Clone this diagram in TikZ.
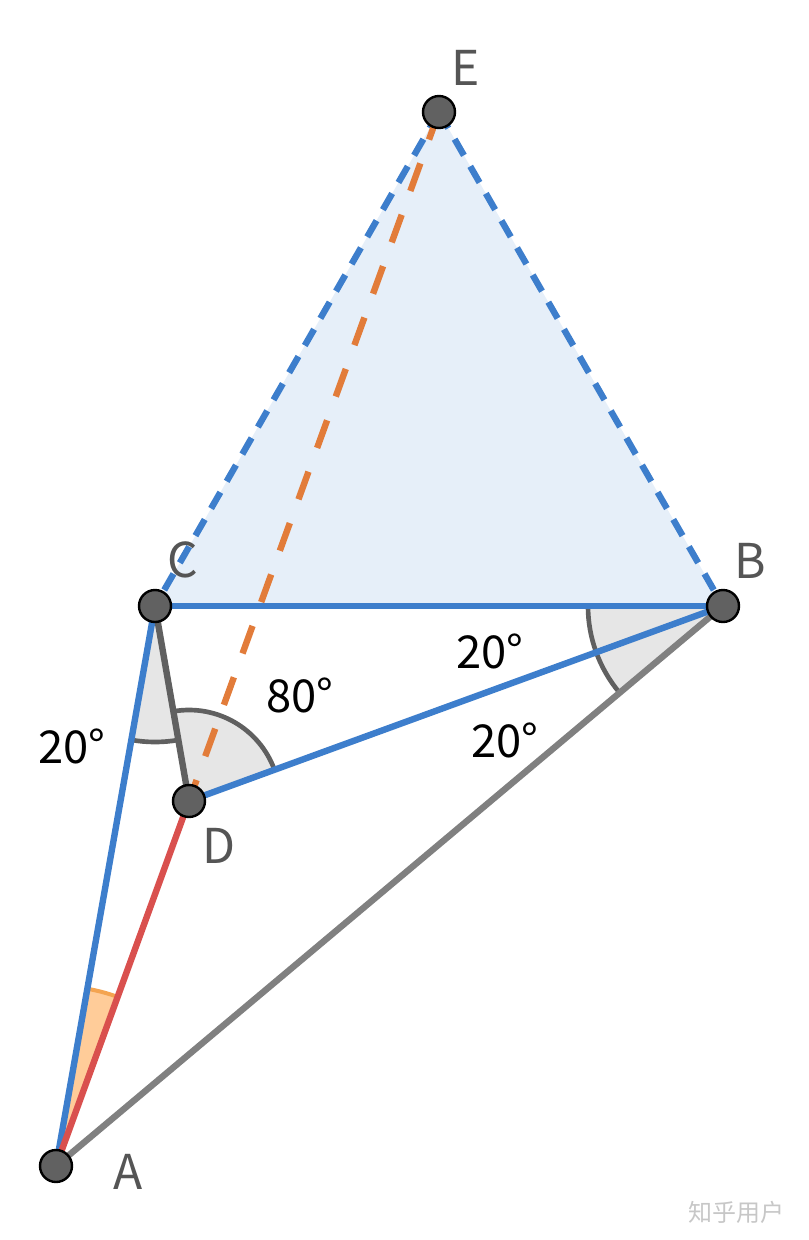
\documentclass[tikz,border=0pt]{standalone}
\usepackage{fontspec}
\setmainfont{Noto Sans CJK SC}
\definecolor{lineblue}{RGB}{61,126,204}
\definecolor{trifill}{RGB}{230,239,249}
\definecolor{segred}{RGB}{217,80,78}
\definecolor{segorange}{RGB}{226,124,58}
\definecolor{seggrey}{RGB}{128,128,128}
\definecolor{darkgrey}{RGB}{96,96,96}
\definecolor{secgrey}{RGB}{230,230,230}
\definecolor{secorange}{RGB}{255,204,153}
\definecolor{arcorange}{RGB}{244,164,80}
\definecolor{dotgrey}{RGB}{97,97,97}
\definecolor{labelgrey}{RGB}{85,85,85}
\tikzset{
	dot/.style={circle, draw=black, fill=dotgrey, line width=1.8pt, minimum size=24pt, inner sep=0pt},
	ptlabel/.style={text=labelgrey, font=\fontsize{36}{36}\selectfont, inner sep=0pt},
	anglabel/.style={text=black, font=\fontsize{34}{34}\selectfont, inner sep=0pt},
	seg/.style={line width=4.8pt},
}

\begin{document}
\begin{tikzpicture}[x=0.75pt,y=0.75pt,yscale=-1,xscale=1]
	\useasboundingbox (0,0) rectangle (808,1240);
	% points
	\coordinate (A) at (56,1166);
	\coordinate (B) at (723,606);
	\coordinate (C) at (155,606);
	\coordinate (D) at (189,801);
	\coordinate (E) at (439,112);

	% triangle CEB
	\fill[trifill] (C) -- (E) -- (B) -- cycle;

	% angle marks
	\fill[secgrey] (C) -- ++(80.11:136) arc[start angle=80.11, end angle=100.03, radius=136] -- cycle;
	\draw[darkgrey, line width=3.5pt] (C) ++(80.11:136) arc[start angle=80.11, end angle=100.03, radius=136];
	\fill[secgrey] (D) -- ++(-99.89:91) arc[start angle=-99.89, end angle=-20.06, radius=91] -- cycle;
	\draw[darkgrey, line width=3.5pt] (D) ++(-99.89:91) arc[start angle=-99.89, end angle=-20.06, radius=91];
	\fill[secgrey] (B) -- ++(139.99:135) arc[start angle=139.99, end angle=180, radius=135] -- cycle;
	\draw[darkgrey, line width=3.5pt] (B) ++(139.99:135) arc[start angle=139.99, end angle=180, radius=135];
	\fill[secorange] (A) -- ++(-79.97:180) arc[start angle=-79.97, end angle=-70, radius=180] -- cycle;
	\draw[arcorange, line width=3pt] (A) ++(-79.97:180) arc[start angle=-79.97, end angle=-70, radius=180];

	% segments
	\draw[seg, seggrey] (A) -- (B);
	\draw[seg, lineblue] (C) -- (B);
	\draw[seg, lineblue] (D) -- (B);
	\draw[seg, lineblue] (A) -- (C);
	\draw[seg, segred] (A) -- (D);
	\draw[seg, darkgrey] (C) -- (D);
	\draw[seg, lineblue, dash pattern=on 14pt off 9.5pt] (E) -- (C);
	\draw[seg, lineblue, dash pattern=on 14pt off 9.5pt] (E) -- (B);
	\draw[seg, segorange, dash pattern=on 22pt off 19pt] (E) -- (D);

	% dots
	\node[dot] (a) at (A) {};
	\node[dot] (b) at (B) {};
	\node[dot] (c) at (C) {};
	\node[dot] (d) at (D) {};
	\node[dot] (e) at (E) {};

	% labels
	\node[ptlabel] (la) at (128,1172) {A};
	\node[ptlabel] (lb) at (750,561) {B};
	\node[ptlabel] (lc) at (183,560) {C};
	\node[ptlabel] (ld) at (219,846) {D};
	\node[ptlabel] (le) at (466,68) {E};
	\node[anglabel] (t1) at (72,746) {20°};
	\node[anglabel] (t2) at (300,695) {80°};
	\node[anglabel] (t3) at (490,651) {20°};
	\node[anglabel] (t4) at (505,740) {20°};
	\node[text=black!22, font=\fontsize{18}{18}\selectfont, inner sep=0pt] (wm) at (736,1212) {知乎用户};
\end{tikzpicture}
\end{document}
